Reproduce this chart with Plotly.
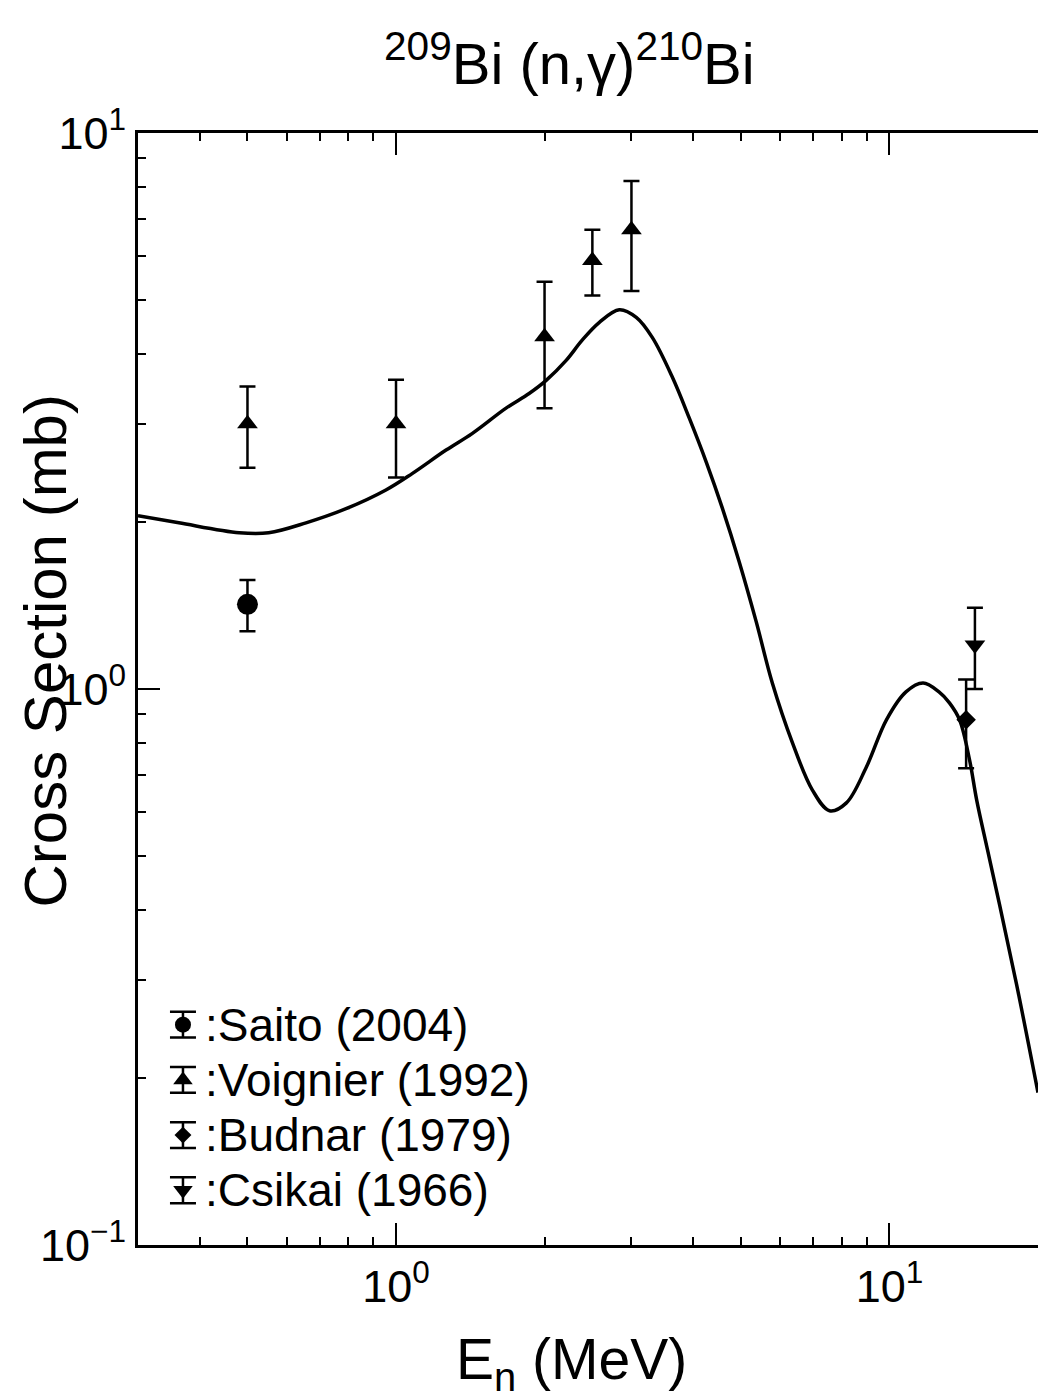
import math
import plotly.graph_objects as go

# Evaluated 209Bi(n,g) cross section (MeV, mb)
model_energy = [0.30, 0.363, 0.481, 0.552, 0.657, 0.792, 0.954, 1.078, 1.263, 1.426,
                1.671, 1.861, 2.015, 2.212, 2.384, 2.580, 2.834, 3.068, 3.306, 3.63,
                3.93, 4.255, 4.585, 4.963, 5.373, 5.789, 6.36, 6.98, 7.56, 8.18,
                8.98, 9.86, 10.8, 11.7, 12.6, 13.23, 13.87, 14.53, 15.02, 15.80,
                16.72, 18.10, 20.0]
model_xs = [2.05, 1.99, 1.91, 1.91, 1.99, 2.11, 2.28, 2.44, 2.69, 2.88,
            3.20, 3.40, 3.59, 3.90, 4.24, 4.56, 4.81, 4.66, 4.29, 3.64,
            3.07, 2.557, 2.115, 1.691, 1.319, 1.025, 0.80, 0.658, 0.604, 0.624,
            0.724, 0.880, 0.988, 1.025, 0.988, 0.944, 0.880, 0.746, 0.632, 0.514,
            0.409, 0.294, 0.188]

# Measurements
saito_energy = [0.5]
saito_xs = [1.42]
saito_err = [0.15]

voignier_energy = [0.5, 1.0, 2.0, 2.5, 3.0]
voignier_xs = [3.0, 3.0, 4.3, 5.9, 6.7]
voignier_err = [0.5, 0.6, 1.1, 0.8, 1.5]

budnar_energy = [14.3]
budnar_xs = [0.88]
budnar_err = [0.16]

csikai_energy = [14.9]
csikai_xs = [1.2]
csikai_err = [0.2]

x_major = [1, 10]
x_major_text = ["10<sup>0</sup>", "10<sup>1</sup>"]
y_major = [0.1, 1, 10]
y_major_text = ["10<sup>\u22121</sup>", "10<sup>0</sup>", "10<sup>1</sup>"]

FONT = "Liberation Sans, Arial, sans-serif"

fig = go.Figure()

fig.add_trace(go.Scatter(
    x=model_energy, y=model_xs, mode="lines",
    line=dict(color="black", width=3.5, shape="spline", smoothing=1.0),
    hoverinfo="skip",
))

series = [
    (":Saito (2004)", saito_energy, saito_xs, saito_err, "circle", 21, 16),
    (":Voignier (1992)", voignier_energy, voignier_xs, voignier_err, "triangle-up", 18, 17),
    (":Budnar (1979)", budnar_energy, budnar_xs, budnar_err, "diamond", 15, 13),
    (":Csikai (1966)", csikai_energy, csikai_xs, csikai_err, "triangle-down", 18, 17),
]
for name, e, s, err, sym, size, _ in series:
    fig.add_trace(go.Scatter(
        x=e, y=s, mode="markers", name=name,
        marker=dict(symbol=sym, size=size, color="black"),
        error_y=dict(type="data", array=err, visible=True, color="black",
                     thickness=2.5, width=8),
        cliponaxis=False,
    ))

# Legend key drawn on a small hidden axis pair: one row per series,
# 1 x-unit = 1 px, each key carries its own error-bar glyph.
n_rows = len(series)
annotations = []
for i, (name, _, _, _, sym, _, key_size) in enumerate(series):
    row = n_rows - 0.5 - i
    fig.add_trace(go.Scatter(
        x=[23], y=[row], mode="markers", xaxis="x3", yaxis="y3",
        marker=dict(symbol=sym, size=key_size, color="black"),
        error_y=dict(type="constant", value=0.235, visible=True, color="black",
                     thickness=2.5, width=13),
        hoverinfo="skip",
    ))
    annotations.append(dict(
        text=name, xref="x3", yref="y3", x=43, y=row,
        xanchor="left", yanchor="middle", showarrow=False,
        font=dict(family=FONT, size=46, color="black"),
    ))

x_minor = [d * 10 ** p for p in (-1, 0) for d in range(2, 10) if 0.3 < d * 10 ** p < 20]
y_minor = [d * 10 ** p for p in (-1, 0) for d in range(2, 10)]

tick_style = dict(ticks="inside", ticklen=22, tickwidth=2, tickcolor="black")
minor_style = dict(ticks="inside", ticklen=8, tickwidth=2, tickcolor="black", showgrid=False)

fig.update_layout(
    xaxis=dict(
        type="log", range=[math.log10(0.3), math.log10(20)],
        showgrid=False, zeroline=False,
        showline=True, linecolor="black", linewidth=3, mirror="ticks",
        tickmode="array", tickvals=x_major, ticktext=x_major_text, **tick_style,
        tickfont=dict(family=FONT, size=45, color="black"),
        minor=dict(tickmode="array", tickvals=x_minor, **minor_style),
    ),
    yaxis=dict(
        type="log", range=[-1, 1],
        showgrid=False, zeroline=False,
        showline=True, linecolor="black", linewidth=3, mirror=False,
        tickmode="array", tickvals=y_major, ticktext=y_major_text, **tick_style,
        tickfont=dict(family=FONT, size=45, color="black"),
        minor=dict(tickmode="array", tickvals=y_minor, **minor_style),
    ),
    # right-hand ticks (the frame's right edge lies at the page border)
    yaxis2=dict(
        type="log", range=[-1, 1], overlaying="y", side="right", anchor="x",
        showgrid=False, zeroline=False, showline=False, showticklabels=False,
        tickmode="array", tickvals=y_major, **tick_style,
        minor=dict(tickmode="array", tickvals=y_minor, **minor_style),
    ),
    xaxis3=dict(domain=[0.0244, 0.469], range=[0, 400], anchor="y3", visible=False),
    yaxis3=dict(domain=[0.0243, 0.223], range=[0, n_rows], anchor="x3", visible=False),
    width=1038, height=1399,
    margin=dict(l=138, r=0, t=133, b=154),
    paper_bgcolor="white", plot_bgcolor="white",
    font=dict(family=FONT, color="black"),
    showlegend=False,
    annotations=annotations + [
        dict(text="<sup>209</sup>Bi (n,\u03b3)<sup>210</sup>Bi", xref="paper", yref="paper",
             x=0.479, y=1.066, xanchor="center", yanchor="middle", showarrow=False,
             font=dict(family=FONT, size=58, color="black")),
        dict(text="Cross Section (mb)", xref="paper", yref="paper",
             x=-0.103, y=0.534, xanchor="center", yanchor="middle", showarrow=False,
             textangle=-90, font=dict(family=FONT, size=60, color="black")),
        dict(text="E<sub>n</sub> (MeV)", xref="paper", yref="paper",
             x=0.482, y=-0.106, xanchor="center", yanchor="middle", showarrow=False,
             font=dict(family=FONT, size=57, color="black")),
    ],
)

fig.write_html("out.html")
